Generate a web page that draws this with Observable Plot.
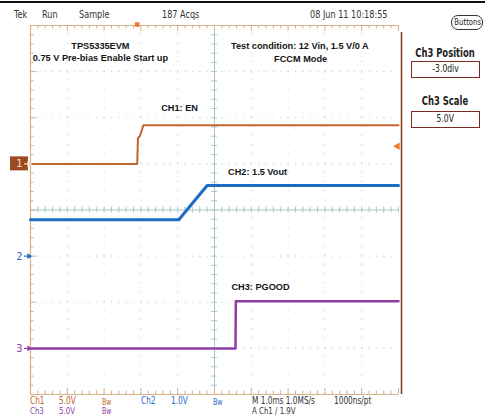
<!DOCTYPE html>
<html><head><meta charset="utf-8">
<script src="https://cdn.jsdelivr.net/npm/d3@7"></script>
<script src="https://cdn.jsdelivr.net/npm/@observablehq/plot@0.6"></script>
<style>
body{margin:0;background:#fff;}
#wrap{position:relative;width:485px;height:415px;overflow:hidden;background:#fff;
 font-family:"Liberation Sans Narrow","DejaVu Sans Condensed","Liberation Sans",sans-serif;}
#wrap svg{position:absolute;left:0;top:0;}
.t{position:absolute;white-space:nowrap;font-size:11px;line-height:1;transform:scaleX(0.82);transform-origin:left center;color:#222;}
.c{transform-origin:center center;text-align:center;}
.box{position:absolute;border:1.5px solid #7a2c1c;box-sizing:border-box;text-align:center;font-size:10px;line-height:13px;color:#222;}
</style></head><body><div id="wrap"></div>
<script>
// ---- data (time in ms from left edge of screen, values in volts) ----
const ch1Time  = [0, 2.90, 2.92, 2.97, 3.07, 10];
const ch1Volts = [0, 0, 2.8, 3.0, 4.2, 4.2];
const ch2Time  = [0, 4.03, 4.80, 10];
const ch2Volts = [0.79, 0.79, 1.53, 1.53];
const ch3Time  = [0, 5.57, 5.58, 10];
const ch3Volts = [0, 0, 5.1, 5.1];

const channelIds     = ["1", "2", "3"];
const channelOffsets = [1, -1, -3];      // divisions
const channelScales  = [5, 1, 5];        // V/div
const channelColors  = ["#c2652c", "#1c6cc6", "#8e3fa6"];
const channelWidths  = [2, 3, 2.5];

const triggerTime = 2.9;   // ms
const triggerLevel = 1.9;  // V on Ch1

const annoLabels = ["TPS5335EVM", "0.75 V Pre-bias Enable Start up",
  "Test condition: 12 Vin, 1.5 V/0 A", "FCCM Mode", "CH1: EN", "CH2: 1.5 Vout", "CH3: PGOOD"];
const annoTime = [1.90, 1.90, 7.32, 7.34, 4.05, 6.17, 6.25];
const annoDiv  = [3.55, 3.29, 3.55, 3.27, 2.22, 0.82, -1.66];

const headerLabels = ["Tek", "Run", "Sample", "187 Acqs", "08 Jun 11 10:18:55"];
const footer1 = ["Ch1", "5.0V", "Bw", "Ch2", "1.0V", "Bw", "M 1.0ms 1.0MS/s", "1000ns/pt"];
const footer2 = ["Ch3", "5.0V", "Bw", "A  Ch1  \u2215  1.9V"];

// ---- build ----
const traces = [];
[[ch1Time, ch1Volts], [ch2Time, ch2Volts], [ch3Time, ch3Volts]].forEach(([ts, vs], i) => {
  ts.forEach((t, j) => traces.push({ch: channelIds[i], t, div: channelOffsets[i] + vs[j] / channelScales[i]}));
});
const channels = channelIds.map((id, i) => ({id, offset: channelOffsets[i], color: channelColors[i]}));
const annos = annoLabels.map((label, i) => ({label, t: annoTime[i], y: annoDiv[i]}));

const pxX = 10 / 368, pxY = 8 / 369;
const minorX = d3.range(0, 50.5, 1).map(k => k / 5);
const minorY = d3.range(0, 40.5, 1).map(k => -4 + k / 5);
const isMajor = d => Math.abs(d - Math.round(d)) < 1e-6;
const gridX = d3.range(1, 10).filter(d => d !== 5);
const gridY = d3.range(-3, 4).filter(d => d !== 0);
const ruler = "#d6b08a", center = "#a6c8c6", dots = "#bcd6de";

const chart = Plot.plot({
  width: 485, height: 415,
  marginLeft: 30, marginRight: 87, marginTop: 25, marginBottom: 21,
  x: {domain: [0, 10], axis: null},
  y: {domain: [-4, 4], axis: null},
  style: {background: "transparent", overflow: "visible"},
  marks: [
    // dotted graticule
    Plot.ruleX(gridX, {x: d => d, y1: -4, y2: 4, stroke: dots, strokeWidth: 1.2, strokeDasharray: "1.2,8.02"}),
    Plot.ruleY(gridY, {y: d => d, x1: 0, x2: 10, stroke: dots, strokeWidth: 1.2, strokeDasharray: "1.2,6.16"}),
    // center cross
    Plot.ruleX([5], {y1: -4, y2: 4, stroke: center, strokeWidth: 1}),
    Plot.ruleY([0], {x1: 0, x2: 10, stroke: center, strokeWidth: 1}),
    Plot.ruleX(minorX, {x: d => d, y1: -3 * pxY, y2: 3 * pxY, stroke: center}),
    Plot.ruleY(minorY, {y: d => d, x1: 5 - 3 * pxX, x2: 5 + 3 * pxX, stroke: center}),
    // rulers
    Plot.ruleY([4, -4], {x1: 0, x2: 10, stroke: ruler, strokeWidth: 1.2}),
    Plot.ruleX([0], {y1: -4, y2: 4, stroke: ruler, strokeWidth: 1.2}),
    Plot.ruleX(minorX, {x: d => d, y1: 4, y2: d => 4 - (isMajor(d) ? 6 : 3.5) * pxY, stroke: ruler}),
    Plot.ruleX(minorX, {x: d => d, y1: -4, y2: d => -4 + (isMajor(d) ? 6 : 3.5) * pxY, stroke: ruler}),
    Plot.ruleY(minorY, {y: d => d, x1: 0, x2: d => (isMajor(d) ? 6 : 3.5) * pxX, stroke: ruler}),
    // right edge bar
    Plot.ruleX([10], {y1: -4, y2: 3.85, dx: 3, stroke: "#8a4428", strokeWidth: 1.6}),
    // traces
    Plot.line(traces, {x: "t", y: "div", z: "ch", stroke: d => channelColors[channelIds.indexOf(d.ch)],
      strokeWidth: d => channelWidths[channelIds.indexOf(d.ch)]}),
    // ground markers
    Plot.rect(channels.filter(c => c.id === "1"), {x1: -20 * pxX, x2: -2 * pxX, y1: d => d.offset - 7 * pxY, y2: d => d.offset + 7 * pxY, fill: "#9c4a22"}),
    Plot.text(channels, {x: 0, y: "offset", text: "id", dx: -11, fill: d => d.id === "1" ? "#f6e2cf" : d.color,
      fontSize: 11, fontFamily: "Liberation Sans Narrow, DejaVu Sans Condensed, sans-serif"}),
    Plot.ruleY(channels, {y: "offset", x1: -6 * pxX, x2: -1 * pxX, stroke: d => d.id === "1" ? "#f6e2cf" : d.color, strokeWidth: 1.2}),
    Plot.dot(channels, {x: 0, y: "offset", dx: -1.5, symbol: "triangle", rotate: 90, r: 2.2,
      fill: d => d.id === "1" ? "#f6e2cf" : d.color, stroke: null}),
    // trigger markers
    Plot.dot([triggerTime], {x: d => d, y: 4, dy: -1, symbol: "square", r: 2.6, fill: "#ee7a2a", stroke: null}),
    Plot.dot([triggerLevel], {x: 10, y: d => channelOffsets[0] + d / channelScales[0], dx: -1, symbol: "triangle", rotate: -90, r: 2.8, fill: "#ee7a2a", stroke: null}),
    // annotations
    Plot.text(annos, {x: "t", y: "y", text: "label", fontWeight: "bold", fontSize: 9.2,
      fontFamily: "Liberation Sans, Arial, sans-serif", fill: "#151515", textAnchor: "middle"})
  ]
});

const wrap = document.getElementById("wrap");
wrap.appendChild(chart);

function addText(txt, left, top, color, cls, extra) {
  const d = document.createElement("div");
  d.className = "t" + (cls ? " " + cls : "");
  d.textContent = txt;
  d.style.left = left + "px"; d.style.top = top + "px";
  if (color) d.style.color = color;
  if (extra) Object.assign(d.style, extra);
  wrap.appendChild(d);
  return d;
}
// top black line
const topLine = document.createElement("div");
Object.assign(topLine.style, {position: "absolute", left: "0", top: "1px", width: "485px", height: "2px", background: "#111"});
wrap.appendChild(topLine);

// header
const headerLeft = [14, 42, 79, 162, 310];
headerLabels.forEach((s, i) => addText(s, headerLeft[i], 9, "#333"));

// right panel
const btn = document.createElement("div");
btn.className = "box";
Object.assign(btn.style, {left: "451px", top: "15px", width: "32px", height: "15px", borderRadius: "7px", border: "1.3px solid #333", fontSize: "9px", lineHeight: "12px"});
btn.innerHTML = '<span style="display:inline-block;transform:scaleX(0.85)">Buttons</span>';
wrap.appendChild(btn);
addText("Ch3 Position", 405, 47, "#222", "c", {width: "80px", fontWeight: "bold", fontSize: "12px", transform: "scaleX(0.78)"});
addText("Ch3 Scale", 405, 95, "#222", "c", {width: "80px", fontWeight: "bold", fontSize: "12px", transform: "scaleX(0.78)"});
[["-3.0div", 61], ["5.0V", 111]].forEach(([s, top]) => {
  const b = document.createElement("div");
  b.className = "box";
  Object.assign(b.style, {left: "411px", top: top + "px", width: "69px", height: "17px"});
  b.innerHTML = '<span style="display:inline-block;transform:scaleX(0.85)">' + s + '</span>';
  wrap.appendChild(b);
});

// footer (two rows, kept inside the frame)
const footLeft1 = [30, 59, 102, 141, 171, 213, 252, 334];
const footColor1 = ["#c2652c", "#c2652c", "#c2652c", "#1c6cc6", "#1c6cc6", "#1c6cc6", "#333", "#333"];
footer1.forEach((s, i) => addText(s, footLeft1[i], 396, footColor1[i], "", s === "Bw" ? {fontSize: "8.5px", top: "398px"} : {fontSize: "10px"}));
const footLeft2 = [30, 59, 102, 252];
const footColor2 = ["#8e3fa6", "#8e3fa6", "#8e3fa6", "#333"];
footer2.forEach((s, i) => addText(s, footLeft2[i], 405.5, footColor2[i], "", s === "Bw" ? {fontSize: "8.5px", top: "406.5px"} : {fontSize: "9.5px"}));
</script></body></html>
